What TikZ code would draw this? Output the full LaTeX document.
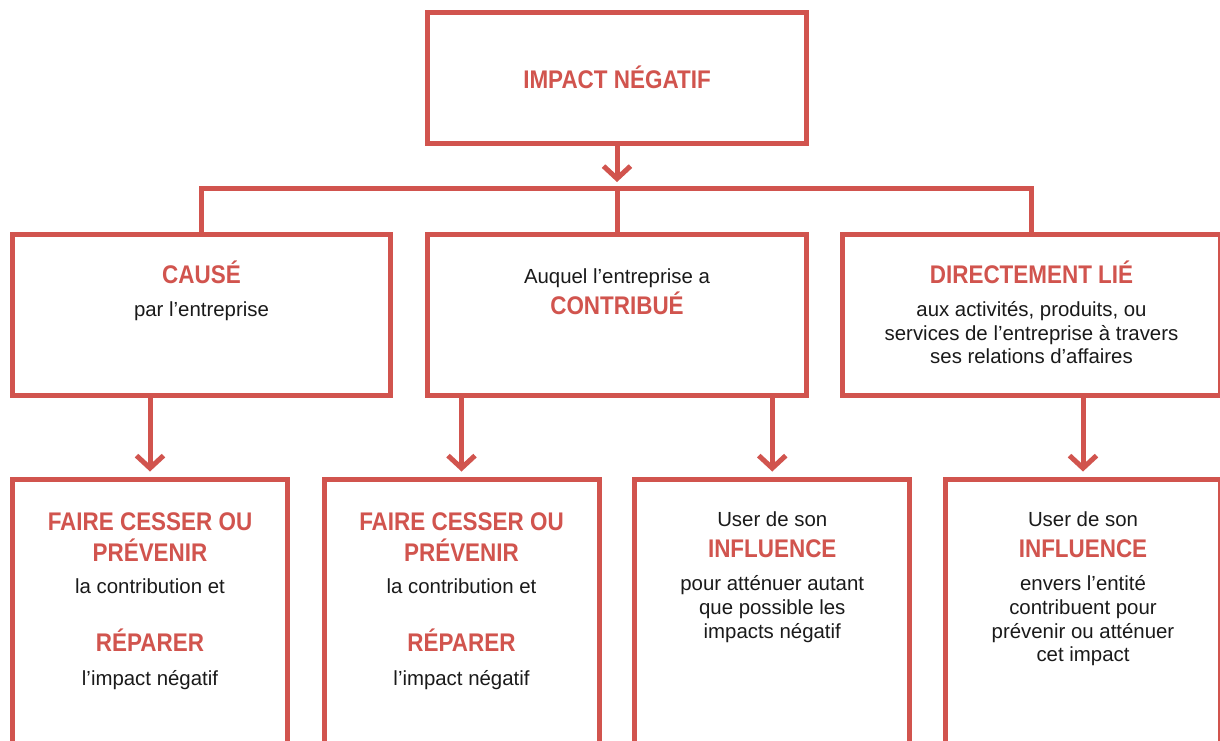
\documentclass[tikz,border=0pt]{standalone}
\usepackage{fontspec}
\setmainfont{Liberation Sans}
\newfontfamily\capsfont{Liberation Sans}[FakeStretch=0.88]
\usetikzlibrary{arrows.meta}
\definecolor{redline}{HTML}{D1544E}
\definecolor{txt}{HTML}{1A1A1A}
\tikzset{
  box/.style={draw=redline, line width=5pt, rectangle, inner sep=0pt, outer sep=0pt, fill=none},
  wire/.style={draw=redline, line width=5pt, line join=miter},
  arr/.style={draw=redline, line width=5pt, -{Straight Barb[length=12.5pt,width=27pt]}},
  hd/.style={anchor=base, inner sep=0pt, text=redline, font=\capsfont\bfseries\fontsize{25.5}{28}\selectfont},
  rg/.style={anchor=base, inner sep=0pt, text=txt, font=\fontsize{20.4}{24}\selectfont},
}
\begin{document}
\begin{tikzpicture}[x=1pt,y=-1pt]
\useasboundingbox (0,0) rectangle (1220,740);
\clip (0,0) rectangle (1220,740);
\fill[white] (0,0) rectangle (1220,740);
% boxes
\node[box, minimum width=379pt, minimum height=130.5pt] (top) at (617,77.75) {};
\node[box, minimum width=378pt, minimum height=161.5pt] (c1) at (201.5,314.75) {};
\node[box, minimum width=379pt, minimum height=161.5pt] (c2) at (617,314.75) {};
\node[box, minimum width=378pt, minimum height=161.5pt] (c3) at (1031.5,314.75) {};
\node[box, minimum width=275pt, minimum height=320pt] (a) at (150,639.5) {};
\node[box, minimum width=275pt, minimum height=320pt] (b) at (461.5,639.5) {};
\node[box, minimum width=275pt, minimum height=320pt] (c) at (772.25,639.5) {};
\node[box, minimum width=275pt, minimum height=320pt] (d) at (1083,639.5) {};
% connectors
\coordinate (bus) at (617,188.5);
\draw[arr] (top.south) -- ([yshift=6.5pt]bus);
\draw[wire] (c1.north) |- (bus) -| (c3.north);
\draw[wire] (bus) -- (c2.north);
\draw[arr] (c1.south -| a.north) -- ([yshift=8pt]a.north);
\draw[arr] (c2.south -| b.north) -- ([yshift=8pt]b.north);
\draw[arr] (c2.south -| c.north) -- ([yshift=8pt]c.north);
\draw[arr] (c3.south -| d.north) -- ([yshift=8pt]d.north);
% texts
\node[hd] (t0) at (617,88.3) {IMPACT NÉGATIF};
\node[hd] (t1a) at (201.5,283.3) {CAUSÉ};
\node[rg] (t1b) at (201.5,316) {par l’entreprise};
\node[rg] (t2a) at (617,283) {Auquel l’entreprise a};
\node[hd] (t2b) at (617,314.3) {CONTRIBUÉ};
\node[hd] (t3a) at (1031.5,283.3) {DIRECTEMENT LIÉ};
\node[rg] (t3b) at (1031.5,316.7) {aux activités, produits, ou};
\node[rg] (t3c) at (1031.5,340) {services de l’entreprise à travers};
\node[rg] (t3d) at (1031.5,363.3) {ses relations d’affaires};
% row 3 A
\node[hd] (ta1) at (150,530) {FAIRE CESSER OU};
\node[hd] (ta2) at (150,561.7) {PRÉVENIR};
\node[rg] (ta3) at (150,593.3) {la contribution et};
\node[hd] (ta4) at (150,651.7) {RÉPARER};
\node[rg] (ta5) at (150,685) {l’impact négatif};
% row 3 B
\node[hd] (tb1) at (461.5,530) {FAIRE CESSER OU};
\node[hd] (tb2) at (461.5,561.7) {PRÉVENIR};
\node[rg] (tb3) at (461.5,593.3) {la contribution et};
\node[hd] (tb4) at (461.5,651.7) {RÉPARER};
\node[rg] (tb5) at (461.5,685) {l’impact négatif};
% row 3 C
\node[rg] (tc1) at (772.25,526) {User de son};
\node[hd] (tc2) at (772.25,557.7) {INFLUENCE};
\node[rg] (tc3) at (772.25,590) {pour atténuer autant};
\node[rg] (tc4) at (772.25,614) {que possible les};
\node[rg] (tc5) at (772.25,638.3) {impacts négatif};
% row 3 D
\node[rg] (td1) at (1083,526) {User de son};
\node[hd] (td2) at (1083,557.7) {INFLUENCE};
\node[rg] (td3) at (1083,590.7) {envers l’entité};
\node[rg] (td4) at (1083,614) {contribuent pour};
\node[rg] (td5) at (1083,638.3) {prévenir ou atténuer};
\node[rg] (td6) at (1083,661.7) {cet impact};
\end{tikzpicture}
\end{document}
